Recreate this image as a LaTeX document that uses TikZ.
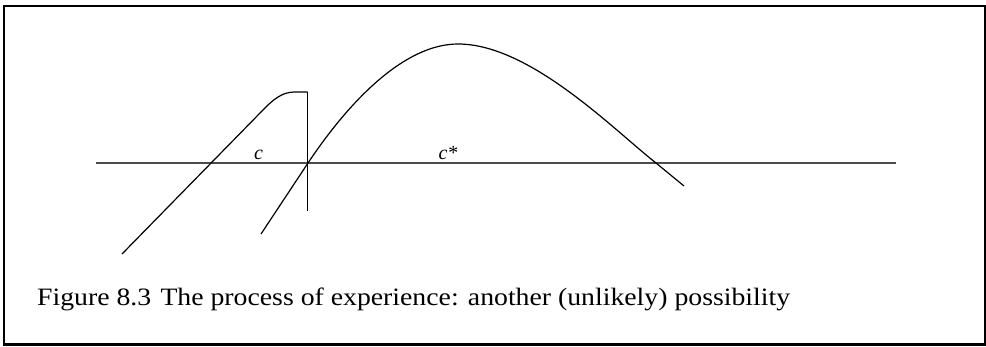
\documentclass[tikz,border=0pt]{standalone}
\usepackage{fontspec}
\setmainfont{Liberation Serif}
\newfontfamily\capfont{Liberation Serif}[FakeStretch=1.11]
\begin{document}
\begin{tikzpicture}[x=1pt,y=-1pt,
  curve/.style={line width=1.2pt,black},
  axisline/.style={line width=1.8pt,black!70},
  framerule/.style={line width=2.2pt,black},
  lbl/.style={inner sep=0pt,anchor=base,font=\fontsize{20}{24}\selectfont\itshape}]
\useasboundingbox (0,0) rectangle (986,346);
% frame
\coordinate (fTL) at (4.3,6);
\coordinate (fTR) at (984.8,6);
\coordinate (fBL) at (4.3,344.5);
\coordinate (fBR) at (984.8,344.5);
\draw[framerule] (fTL) -- (fTR) -- (fBR) -- (fBL) -- cycle;
% axis
\coordinate (axL) at (96,163);
\coordinate (axR) at (896,163);
\draw[axisline] (axL) -- (axR);
% vertical line
\coordinate (vT) at (307.5,92);
\coordinate (vB) at (307.5,211);
\draw[curve] (vT) -- (vB);
% left curve
\coordinate (lA) at (122,254);
\coordinate (lB) at (262,111);
\coordinate (lC) at (297,92);
\draw[curve] (lA) -- (lB) .. controls (279,93) and (287,92) .. (lC) -- (vT);
% big curve
\coordinate (bA) at (261,234);
\coordinate (bB) at (308,163);
\coordinate (bP) at (458,44);
\coordinate (bC) at (656,163);
\coordinate (bD) at (684,186);
\draw[curve] (bA) -- (bB) .. controls (350,100) and (405,44) .. (bP)
  .. controls (530,44) and (614,130) .. (bC) -- (bD);
% labels
\node[lbl] (c) at (258.5,159) {c};
\node[lbl] (cs) at (448,159) {c*};
\node[inner sep=0pt,anchor=base west,font=\capfont\fontsize{25}{30}\selectfont] (cap) at (37,305)
  {Figure 8.3\hspace{0.37em}The process of experience: another (unlikely) possibility};
\end{tikzpicture}
\end{document}
